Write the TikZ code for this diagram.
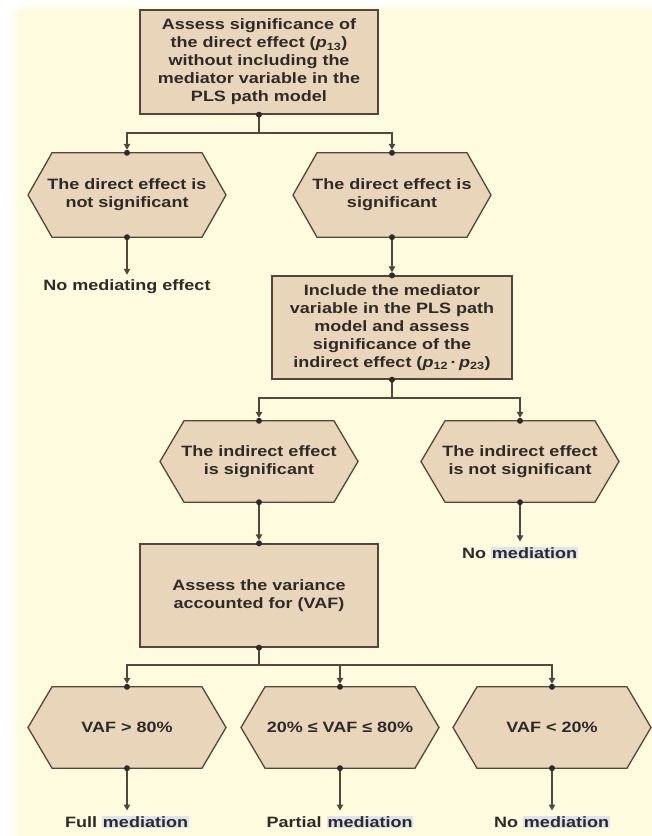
\documentclass[tikz,border=0pt]{standalone}
\usepackage{fontspec}
\setmainfont{Liberation Sans}[FakeStretch=1.2]
\usetikzlibrary{arrows.meta}

\definecolor{paper}{HTML}{FFFBDE}
\definecolor{boxfill}{HTML}{E9D5BA}
\definecolor{edge}{HTML}{54463D}
\definecolor{ink}{HTML}{2E2A2A}
\definecolor{hlblue}{HTML}{DDE4EE}

\pgfdeclarelayer{back}
\pgfdeclarelayer{shapes}
\pgfsetlayers{back,shapes,main}

% highlighted word
\newcommand\hlword[1]{{\setlength\fboxsep{0.8pt}\colorbox{hlblue}{#1}}}

\tikzset{
  txt/.style={font=\bfseries\fontsize{15}{18}\selectfont, text=ink, align=center},
  stepbox/.style={txt, draw=edge, fill=boxfill, line width=1.3pt, inner sep=0pt},
  hexnode/.style={txt, inner sep=0pt, minimum width=150pt},
  hexline/.style={draw=edge, fill=boxfill, line width=1.3pt, line join=miter},
  outcome/.style={txt, inner sep=2pt},
  conn/.style={draw=edge, line width=1.3pt},
  arr/.style={conn, -{Triangle[width=6.5pt,length=6pt]}, shorten >=3pt},
  joint/.style={fill=ink},
}

\begin{document}
\begin{tikzpicture}[x=1pt,y=-1pt]
  % page background
  \begin{pgfonlayer}{back}
    \fill[white] (0,0) rectangle (652,836);
    \fill[paper] (20,10) rectangle (652,836);
    \shade[left color=white, right color=paper] (8,10) rectangle (20.5,836);
    \shade[top color=white, bottom color=paper] (20,2) rectangle (652,10.5);
  \end{pgfonlayer}
  \useasboundingbox (0,0) rectangle (652,836);

  % decision steps
  \node[stepbox, minimum width=238pt, minimum height=104pt] (t1) at (259,62)
    {Assess significance of\\the direct effect ({\itshape p}\textsubscript{13})\\without including the\\mediator variable in the\\PLS path model};

  \node[hexnode, minimum height=84pt] (h1) at (127,195) {The direct effect is\\not significant};
  \node[hexnode, minimum height=84pt] (h2) at (392,195) {The direct effect is\\significant};

  \node[outcome] (e1) at (127,287) {No mediating effect};

  \node[stepbox, minimum width=240pt, minimum height=103pt] (b2) at (392,327.5)
    {Include the mediator\\variable in the PLS path\\model and assess\\significance of the\\indirect effect ({\itshape p}\textsubscript{12}\,·\,{\itshape p}\textsubscript{23})};

  \node[hexnode, minimum height=81pt] (h3) at (259,461.5) {The indirect effect\\is significant};
  \node[hexnode, minimum height=81pt] (h4) at (520,461.5) {The indirect effect\\is not significant};

  \node[outcome] (e2) at (520,553) {No \hlword{mediation}};

  \node[stepbox, minimum width=238pt, minimum height=103pt] (b3) at (259,595.5)
    {Assess the variance\\accounted for (VAF)};

  \node[hexnode, minimum height=81pt] (h5) at (127,727.5) {VAF > 80\%};
  \node[hexnode, minimum height=81pt] (h6) at (340,727.5) {20\%\ ≤\ VAF\ ≤\ 80\%};
  \node[hexnode, minimum height=81pt] (h7) at (552,727.5) {VAF < 20\%};

  \node[outcome] (e3) at (127,822) {Full \hlword{mediation}};
  \node[outcome] (e4) at (340,822) {Partial \hlword{mediation}};
  \node[outcome] (e5) at (552,822) {No \hlword{mediation}};

  % hexagonal outlines (fixed 198pt wide) behind the decision texts
  \begin{pgfonlayer}{shapes}
    \foreach \n in {h1,h2,h3,h4,h5,h6,h7}
      \path[hexline] ([xshift=-75pt]\n.north) -- ([xshift=75pt]\n.north)
        -- ([xshift=99pt]\n.center) -- ([xshift=75pt]\n.south)
        -- ([xshift=-75pt]\n.south) -- ([xshift=-99pt]\n.center) -- cycle;
  \end{pgfonlayer}

  % branching points
  \coordinate (j1) at (259,133);
  \coordinate (j2) at (392,398);
  \coordinate (j3) at (259,665);

  % connectors
  \draw[conn] (t1.south) -- (j1);
  \draw[arr] (j1) -| (h1.north);
  \draw[arr] (j1) -| (h2.north);
  \draw[arr] (h1.south) -- (e1.north);
  \draw[arr] (h2.south) -- (b2.north);
  \draw[conn] (b2.south) -- (j2);
  \draw[arr] (j2) -| (h3.north);
  \draw[arr] (j2) -| (h4.north);
  \draw[arr] (h3.south) -- (b3.north);
  \draw[arr] (h4.south) -- (e2.north);
  \draw[conn] (b3.south) -- (j3);
  \draw[arr] (j3) -| (h5.north);
  \draw[arr] (j3) -| (h6.north);
  \draw[arr] (j3) -| (h7.north);
  \draw[arr] (h5.south) -- (e3.north);
  \draw[arr] (h6.south) -- (e4.north);
  \draw[arr] (h7.south) -- (e5.north);

  % joint dots where connectors meet the steps
  \foreach \n in {t1,b2,b3,h1,h2,h3,h4,h5,h6,h7}
    \fill[joint] (\n.south) circle (3pt);
  \foreach \n in {b2,b3,h1,h2,h3,h4,h5,h6,h7}
    \fill[joint] (\n.north) circle (3pt);
\end{tikzpicture}
\end{document}
